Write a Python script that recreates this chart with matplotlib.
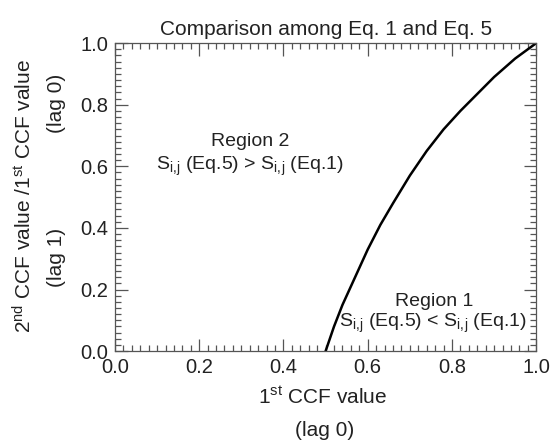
import matplotlib
matplotlib.use('Agg')
import matplotlib.pyplot as plt
from matplotlib.ticker import MultipleLocator

plt.rcParams['font.family'] = ['Liberation Sans', 'DejaVu Sans']
plt.rcParams['mathtext.fontset'] = 'custom'
plt.rcParams['mathtext.rm'] = 'Liberation Sans'
plt.rcParams['mathtext.it'] = 'Liberation Sans'

# boundary curve
ccf1 = [0.50, 0.51, 0.52, 0.54, 0.56, 0.58, 0.60, 0.63, 0.66, 0.70,
        0.74, 0.78, 0.82, 0.86, 0.90, 0.95, 1.00]
ratio = [0.00, 0.04, 0.08, 0.15, 0.21, 0.27, 0.33, 0.41, 0.48, 0.57,
         0.65, 0.72, 0.78, 0.835, 0.89, 0.95, 1.00]

ticks = [0.0, 0.2, 0.4, 0.6, 0.8, 1.0]
tick_labels = ['0.0', '0.2', '0.4', '0.6', '0.8', '1.0']

fig = plt.figure(figsize=(5.5, 4.4), dpi=100)
ax = fig.add_axes([0.209, 0.202, 0.766, 0.7])

ax.plot(ccf1, ratio, color='black', lw=1.8)

ax.set_xlim(0, 1)
ax.set_ylim(0, 1)
ax.set_xticks(ticks)
ax.set_xticklabels(tick_labels)
ax.set_yticks(ticks)
ax.set_yticklabels(tick_labels)
ax.xaxis.set_minor_locator(MultipleLocator(0.02))
ax.yaxis.set_minor_locator(MultipleLocator(0.02))
ax.tick_params(which='both', direction='in', top=True, right=True,
               color='#555555', width=0.9, labelsize=14.5, labelcolor='#222222')
ax.tick_params(which='major', length=9, pad=5)
ax.tick_params(which='minor', length=4)
for s in ax.spines.values():
    s.set_color('#555555')
    s.set_linewidth(0.9)

ax.set_title('Comparison among Eq. 1 and Eq. 5', fontsize=15, color='#222222', pad=6)

txt = dict(fontsize=15, color='#222222', ha='center', va='center')
reg = dict(txt, fontsize=14)
sij = r'S$_{\rm i,\!j}$'
ax.text(0.32, 0.68, 'Region 2', **reg)
ax.text(0.32, 0.60, sij + ' (Eq.5) > ' + sij + ' (Eq.1)', **reg)
ax.text(0.757, 0.16, 'Region 1', **reg)
ax.text(0.754, 0.09, sij + ' (Eq.5) < ' + sij + ' (Eq.1)', **reg)

# axis labels (two lines each, IDL style)
fig.text(0.586, 1 - 397 / 440, r'1$^{\rm st}$ CCF value', **txt)
fig.text(0.591, 1 - 430 / 440, '(lag 0)', **txt)
fig.text(24 / 550, 1 - 196 / 440, r'2$^{\rm nd}$ CCF value /1$^{\rm st}$ CCF value',
         rotation=90, **txt)
fig.text(56 / 550, 1 - 103 / 440, '(lag 0)', rotation=90, **txt)
fig.text(56 / 550, 1 - 257 / 440, '(lag 1)', rotation=90, **txt)

fig.savefig('out.png', dpi=100)
